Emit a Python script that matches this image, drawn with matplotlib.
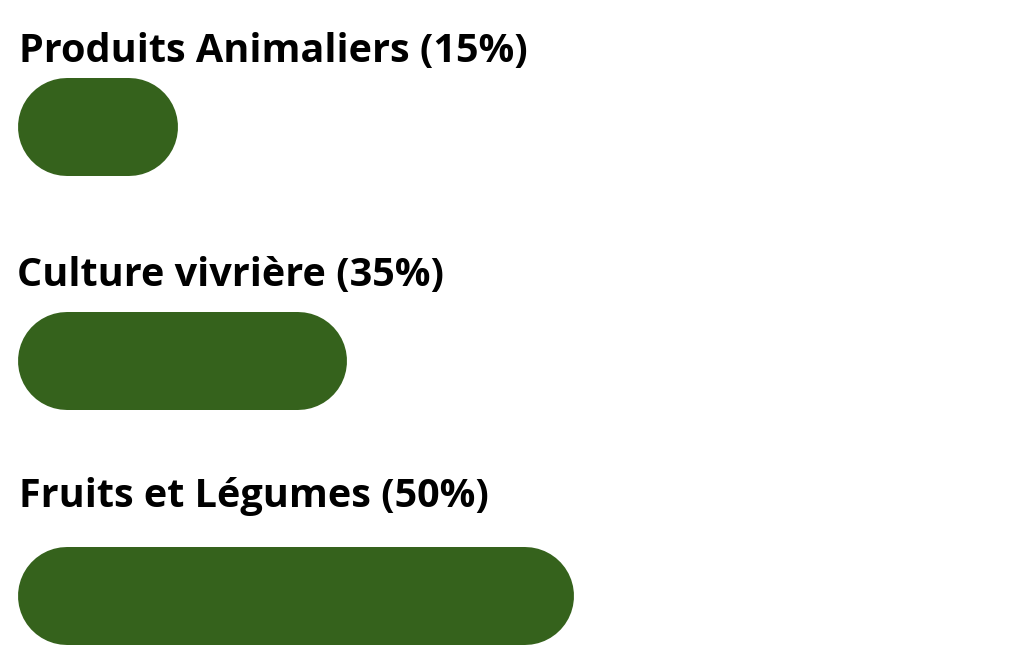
import matplotlib
matplotlib.use("Agg")
import matplotlib.pyplot as plt

# categories et parts affichées dans les libellés
categories = ["Produits Animaliers", "Culture vivrière", "Fruits et Légumes"]
shares = [15, 35, 50]
# longueur visible des barres (échelle 0-100)
bar_lengths = [16.0, 32.9, 55.6]

GREEN = "#35621c"
DPI = 100
W, H = 10.24, 6.46
BAR_PX = 98                       # épaisseur des barres en pixels
LABEL_GAP_PT = [11, 19, 29]       # écart libellé / haut de barre (points)
LABEL_DX_PT = [1, -1, 1]

fig = plt.figure(figsize=(W, H), dpi=DPI)
ax = fig.add_axes([18 / 1024, 0, 1000 / 1024, 1])
ax.set_xlim(0, 100)
ax.set_ylim(2.213, -0.539)
ax.axis("off")

px_per_unit = 1000 / 100
cap = (BAR_PX / 2) / px_per_unit
lw_pt = BAR_PX * 72 / DPI
row_px = 646 / (2.213 + 0.539)

for i, (name, share, length) in enumerate(zip(categories, shares, bar_lengths)):
    ax.plot([cap, length - cap], [i, i], color=GREEN, lw=lw_pt,
            solid_capstyle="round")
    top = i - (BAR_PX / 2) / row_px
    ax.annotate(f"{name} ({share}%)", xy=(0, top),
                xytext=(LABEL_DX_PT[i], LABEL_GAP_PT[i]),
                textcoords="offset points", va="baseline", ha="left",
                fontsize=28.5, fontweight="bold", family="Open Sans",
                color="black")

fig.savefig("out.png", dpi=DPI)
